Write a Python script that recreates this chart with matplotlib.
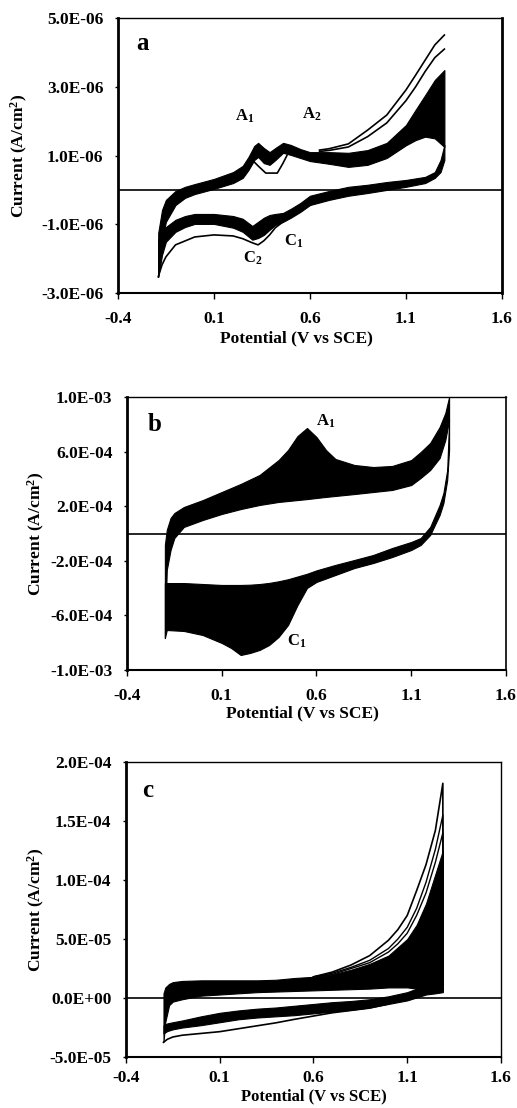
import matplotlib
matplotlib.use("Agg")
import matplotlib.pyplot as plt
from matplotlib.ticker import FuncFormatter
import numpy as np

plt.rcParams['font.family'] = ['Liberation Serif', 'DejaVu Serif']
plt.rcParams['font.weight'] = 'bold'
plt.rcParams['mathtext.fontset'] = 'custom'
plt.rcParams['mathtext.rm'] = 'Liberation Serif:bold'
plt.rcParams['mathtext.bf'] = 'Liberation Serif:bold'
plt.rcParams['mathtext.it'] = 'Liberation Serif:bold'

# ---- panel a : currents in uA/cm2 ----
a_v_fwd = [-0.19, -0.17, -0.15, -0.10, -0.05, 0.00, 0.10, 0.20, 0.25, 0.28, 0.31, 0.33, 0.36, 0.39,
           0.42, 0.46, 0.50, 0.55, 0.60, 0.70, 0.80, 0.90, 1.00, 1.10, 1.15, 1.20, 1.25, 1.30]
a_fwd_hi = [-1.25, -0.58, -0.29, -0.03, 0.09, 0.17, 0.32, 0.52, 0.70, 0.96, 1.28, 1.37, 1.22, 1.10,
            1.22, 1.37, 1.31, 1.19, 1.10, 1.10, 1.08, 1.16, 1.37, 1.89, 2.33, 2.76, 3.20, 3.49]
a_fwd_lo = [-2.53, -1.45, -0.93, -0.44, -0.23, -0.12, 0.03, 0.20, 0.35, 0.58, 0.87, 0.96, 0.78, 0.73,
            0.87, 1.08, 1.02, 0.93, 0.84, 0.76, 0.67, 0.73, 0.93, 1.30, 1.45, 1.55, 1.50, 1.25]
a_v_rev = [1.30, 1.28, 1.25, 1.20, 1.10, 1.00, 0.90, 0.80, 0.70, 0.60, 0.55, 0.50, 0.46, 0.42,
           0.39, 0.36, 0.33, 0.30, 0.25, 0.20, 0.10, 0.00, -0.05, -0.10, -0.15, -0.17, -0.19]
a_rev_hi = [1.31, 0.87, 0.52, 0.38, 0.29, 0.23, 0.15, 0.09, -0.03, -0.17, -0.38, -0.55, -0.67, -0.70,
            -0.73, -0.81, -0.93, -1.05, -0.84, -0.76, -0.70, -0.70, -0.76, -0.87, -1.08, -1.22, -1.45]
a_rev_lo = [0.87, 0.52, 0.35, 0.20, 0.09, 0.00, -0.09, -0.17, -0.29, -0.44, -0.64, -0.81, -0.93, -1.02,
            -1.16, -1.31, -1.40, -1.45, -1.22, -1.10, -0.99, -0.99, -1.08, -1.22, -1.51, -1.89, -2.53]
# first cycles drawn as single lines
a_v_up = [0.65, 0.70, 0.80, 0.90, 1.00, 1.10, 1.15, 1.20, 1.25, 1.30]
a_up1 = [1.16, 1.20, 1.34, 1.74, 2.18, 2.91, 3.34, 3.78, 4.22, 4.51]
a_up2 = [1.12, 1.15, 1.25, 1.55, 1.95, 2.60, 3.00, 3.45, 3.85, 4.10]
a_v_dip = [0.30, 0.33, 0.37, 0.43, 0.46, 0.48]
a_dip = [0.87, 0.70, 0.49, 0.49, 0.78, 1.00]
a_v_c1 = [0.46, 0.42, 0.39, 0.36, 0.33, 0.30, 0.25, 0.20, 0.10, 0.00, -0.10, -0.15, -0.17, -0.19]
a_c1 = [-0.93, -1.10, -1.31, -1.48, -1.60, -1.54, -1.42, -1.34, -1.31, -1.37, -1.60, -1.95, -2.18, -2.53]

# ---- panel b : currents in 1e-4 A/cm2 ----
b_v_fwd = [-0.20, -0.19, -0.17, -0.15, -0.10, 0.00, 0.10, 0.20, 0.30, 0.40, 0.45, 0.50, 0.55,
           0.60, 0.65, 0.70, 0.80, 0.90, 1.00, 1.10, 1.15, 1.20, 1.25, 1.28, 1.30]
b_fwd_hi = [-0.84, 0.26, 1.14, 1.50, 1.94, 2.45, 3.04, 3.63, 4.29, 5.38, 6.12, 7.14, 7.73,
            7.07, 6.12, 5.46, 5.02, 4.87, 4.95, 5.38, 5.97, 6.63, 7.80, 8.83, 10.0]
b_fwd_lo = [-7.66, -2.67, -1.21, -0.33, 0.48, 0.99, 1.43, 1.79, 2.09, 2.31, 2.38, 2.45, 2.52,
            2.60, 2.68, 2.75, 2.89, 3.04, 3.19, 3.55, 4.07, 4.65, 5.53, 6.85, 8.30]
b_v_rev = [1.30, 1.29, 1.27, 1.25, 1.20, 1.15, 1.10, 1.00, 0.90, 0.80, 0.70, 0.60, 0.55, 0.50,
           0.45, 0.40, 0.35, 0.30, 0.25, 0.20, 0.15, 0.10, 0.00, -0.10, -0.19, -0.20]
b_rev_hi = [8.30, 4.65, 2.97, 2.09, 0.48, -0.33, -0.62, -1.06, -1.57, -1.94, -2.30, -2.70, -2.95, -3.15,
            -3.35, -3.50, -3.62, -3.70, -3.75, -3.77, -3.77, -3.77, -3.70, -3.63, -3.63, -3.63]
b_rev_lo = [6.12, 3.92, 2.23, 1.36, -0.11, -0.84, -1.21, -1.72, -2.16, -2.53, -3.04, -3.55, -3.99, -5.24,
            -6.70, -7.58, -8.17, -8.53, -8.75, -8.90, -8.39, -8.02, -7.44, -7.14, -7.07, -7.66]

# ---- panel c : currents in 1e-5 A/cm2 ----
c_v_fwd = [-0.20, -0.19, -0.17, -0.15, -0.10, 0.00, 0.10, 0.20, 0.30, 0.40, 0.50, 0.60, 0.70,
           0.80, 0.90, 1.00, 1.10, 1.15, 1.20, 1.25, 1.29]
c_fwd_hi = [0.4, 0.9, 1.2, 1.35, 1.45, 1.5, 1.5, 1.5, 1.5, 1.55, 1.7, 1.8, 2.0,
            2.4, 2.9, 3.6, 5.0, 6.2, 8.0, 10.5, 12.5]
c_fwd_lo = [-3.7, -2.0, -0.6, -0.3, -0.1, 0.2, 0.3, 0.4, 0.5, 0.55, 0.6, 0.65, 0.7,
            0.75, 0.8, 0.9, 0.9, 0.8, 0.7, 0.7, 0.7]
c_v_rev = [1.29, 1.25, 1.20, 1.15, 1.10, 1.00, 0.90, 0.80, 0.70, 0.60, 0.50, 0.40, 0.30,
           0.20, 0.10, 0.00, -0.10, -0.15, -0.18, -0.20]
c_rev_hi = [0.9, 0.9, 0.9, 0.8, 0.5, 0.15, -0.1, -0.25, -0.35, -0.5, -0.65, -0.8, -0.9,
            -1.05, -1.25, -1.55, -1.9, -2.05, -2.15, -2.3]
c_rev_lo = [0.5, 0.4, 0.3, 0.05, -0.2, -0.5, -0.8, -1.0, -1.15, -1.3, -1.45, -1.55, -1.65,
            -1.8, -2.05, -2.3, -2.5, -2.65, -2.8, -3.0]
c_v_up = [0.60, 0.70, 0.80, 0.90, 1.00, 1.05, 1.10, 1.15, 1.20, 1.25, 1.29, 1.29]
c_up1 = [1.8, 2.2, 2.8, 3.6, 4.9, 5.8, 7.0, 9.1, 11.3, 14.2, 18.2, 1.0]
c_up2 = [1.8, 2.1, 2.6, 3.2, 4.2, 5.0, 6.0, 7.6, 9.8, 12.6, 15.5, 1.0]
c_up3 = [1.8, 2.0, 2.5, 3.0, 3.9, 4.6, 5.5, 7.0, 8.9, 11.5, 14.0, 1.0]
c_v_c1 = [1.00, 0.90, 0.70, 0.50, 0.40, 0.30, 0.20, 0.10, 0.00, -0.10, -0.15, -0.18, -0.20]
c_c1 = [-0.5, -0.85, -1.25, -1.8, -2.1, -2.35, -2.6, -2.85, -3.0, -3.15, -3.3, -3.5, -3.75]

x_ticks = [-0.4, 0.1, 0.6, 1.1, 1.6]


def band(ax, v, lo, hi, scale):
    ax.fill_between(v, np.array(lo) * scale, np.array(hi) * scale,
                    facecolor='black', edgecolor='black', linewidth=0.8)


def line(ax, v, i, scale, lw=1.2):
    ax.plot(v, np.array(i) * scale, color='black', linewidth=lw)


def style(ax, yticks, right_lw, letter, letter_xy, xlab_x, xlab_y, ylab_x, xpad=9, xlab_size=12.5):
    ax.set_xlim(-0.4, 1.6)
    ax.set_ylim(yticks[-1], yticks[0])
    ax.set_xticks(x_ticks)
    ax.set_xticklabels([f"{t:.1f}" for t in x_ticks])
    ax.set_yticks(yticks)
    ax.yaxis.set_major_formatter(FuncFormatter(lambda v, p: f"{v:.1E}"))
    ax.tick_params(axis='x', direction='out', length=4, width=1, pad=xpad, labelsize=12.5)
    ax.tick_params(axis='y', direction='out', length=2.5, width=1, pad=8, labelsize=12.5)
    for lab in ax.get_xticklabels() + ax.get_yticklabels():
        lab.set_fontweight('bold')
    ax.spines['left'].set_linewidth(2.0)
    ax.spines['bottom'].set_linewidth(1.5)
    ax.spines['top'].set_linewidth(1.0)
    ax.spines['right'].set_linewidth(right_lw)
    ax.axhline(0, color='black', linewidth=1.2)
    ax.set_xlabel("Potential (V vs SCE)", fontsize=xlab_size, fontweight='bold')
    ax.set_ylabel("Current (A/cm$^2$)", fontsize=12.5, fontweight='bold')
    ax.xaxis.set_label_coords(xlab_x, xlab_y)
    ax.yaxis.set_label_coords(ylab_x, 0.5)
    ax.text(letter_xy[0], letter_xy[1], letter, fontsize=18, fontweight='bold',
            ha='center', va='center')


def peak_label(ax, x, y, txt):
    ax.text(x, y, txt, fontsize=12, ha='center', va='center')


fig = plt.figure(figsize=(5.17, 11.08), dpi=100)

# --- a ---
ax = fig.add_axes([0.228, 0.7356, 0.743, 0.248])
s = 1e-6
band(ax, a_v_fwd, a_fwd_lo, a_fwd_hi, s)
band(ax, a_v_rev, a_rev_lo, a_rev_hi, s)
line(ax, a_v_up, a_up1, s)
line(ax, a_v_up, a_up2, s)
line(ax, a_v_dip, a_dip, s)
line(ax, a_v_c1, a_c1, s)
style(ax, [5e-6, 3e-6, 1e-6, -1e-6, -3e-6], 2.0, "a", (-0.27, 4.27e-6), 0.466, -0.135, -0.229)
peak_label(ax, 0.26, 2.15e-6, "A$_1$")
peak_label(ax, 0.61, 2.21e-6, "A$_2$")
peak_label(ax, 0.517, -1.51e-6, "C$_1$")
peak_label(ax, 0.30, -2.0e-6, "C$_2$")

# --- b ---
ax = fig.add_axes([0.2456, 0.3953, 0.733, 0.2464])
s = 1e-4
band(ax, b_v_fwd, b_fwd_lo, b_fwd_hi, s)
band(ax, b_v_rev, b_rev_lo, b_rev_hi, s)
style(ax, [1e-3, 6e-4, 2e-4, -2e-4, -6e-4, -1e-3], 1.2, "b", (-0.252, 8.0e-4), 0.464, -0.128, -0.211)
peak_label(ax, 0.65, 8.24e-4, "A$_1$")
peak_label(ax, 0.497, -7.9e-4, "C$_1$")

# --- c ---
ax = fig.add_axes([0.2437, 0.046, 0.7253, 0.2662])
s = 1e-5
band(ax, c_v_fwd, c_fwd_lo, c_fwd_hi, s)
band(ax, c_v_rev, c_rev_lo, c_rev_hi, s)
line(ax, c_v_up, c_up1, s)
line(ax, c_v_up, c_up2, s, lw=1.0)
line(ax, c_v_up, c_up3, s, lw=1.0)
line(ax, c_v_c1, c_c1, s)
style(ax, [2e-4, 1.5e-4, 1e-4, 5e-5, 0.0, -5e-5], 1.0, "c", (-0.283, 1.76e-4), 0.5, -0.106, -0.211,
      xpad=5, xlab_size=12)

fig.savefig("out.png", dpi=100)
